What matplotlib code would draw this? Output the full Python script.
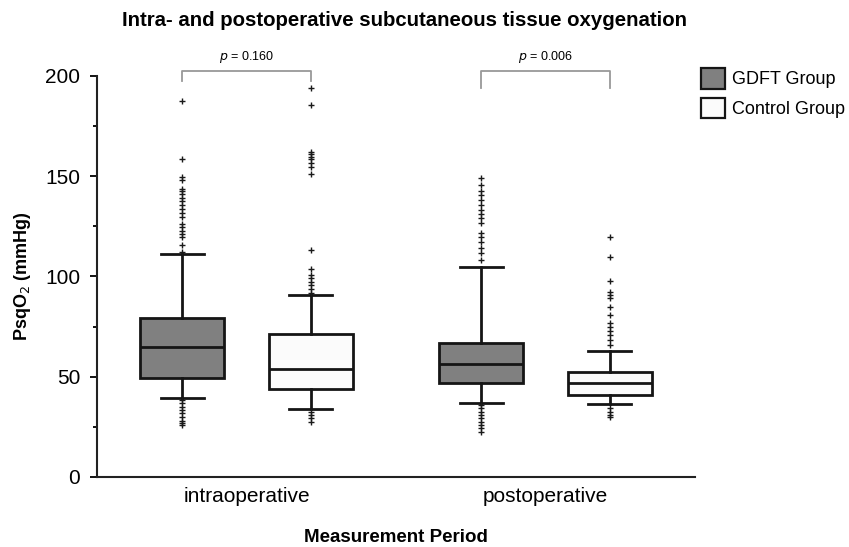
import matplotlib
matplotlib.use("Agg")
import matplotlib.pyplot as plt
from matplotlib.patches import Patch
from matplotlib.ticker import MultipleLocator

plt.rcParams['font.family'] = ['Liberation Sans', 'DejaVu Sans']

periods = ['intraoperative', 'postoperative']
groups = ['GDFT Group', 'Control Group']
colors = ['#808080', '#fbfbfb']

# box stats: [intra GDFT, intra Control, post GDFT, post Control]
whislo = [39.4, 33.9, 36.8, 36.2]
q1 = [49.4, 43.7, 46.7, 41.0]
med = [64.7, 53.9, 56.2, 46.7]
q3 = [79.5, 71.3, 67.0, 52.2]
whishi = [111.2, 90.6, 104.9, 62.8]

fliers_intra_gdft = [187.5, 158.6, 149.8, 148.1, 143.8, 142.8, 141.0, 139.2, 137.5,
                     135.7, 133.7, 131.5, 129.5, 126.3, 124.8, 122.7, 121.2, 119.6,
                     115.6, 112.4, 38.4, 36.8, 35.1, 33.4, 31.8, 30.1, 28.1, 26.8, 25.9]
fliers_intra_ctrl = [193.9, 185.5, 162.3, 161.1, 159.8, 158.6, 156.4, 154.5, 151.0,
                     113.2, 103.9, 100.7, 99.1, 97.4, 95.6, 93.6, 91.9,
                     32.6, 30.9, 29.3, 27.6]
fliers_post_gdft = [149.0, 145.6, 142.8, 140.6, 138.2, 135.7, 133.2, 131.2, 129.0,
                    126.9, 121.5, 119.9, 117.4, 114.1, 111.6, 108.2,
                    35.9, 34.3, 32.6, 30.9, 29.3, 27.6, 25.9, 24.3, 22.6]
fliers_post_ctrl = [119.9, 109.9, 97.9, 92.4, 90.8, 89.1, 84.6, 80.8, 76.7, 75.0,
                    73.0, 70.8, 68.3, 65.8, 34.3, 32.6, 30.9, 29.8]
fliers = [fliers_intra_gdft, fliers_intra_ctrl, fliers_post_gdft, fliers_post_ctrl]

p_values = ['0.160', '0.006']

fig = plt.figure(figsize=(8.49, 5.47), dpi=100)
ax = fig.add_axes([0.1143, 0.128, 0.7043, 0.7331])

off = 0.215
positions = []
for i in range(len(periods)):
    positions += [i + 1 - off, i + 1 + off]

stats = []
for k in range(4):
    stats.append(dict(whislo=whislo[k], q1=q1[k], med=med[k], q3=q3[k],
                      whishi=whishi[k], fliers=fliers[k]))

lc = '#151515'
bp = ax.bxp(stats, positions=positions, widths=0.28, capwidths=0.145,
            patch_artist=True, showfliers=True,
            boxprops=dict(linewidth=2.0, edgecolor=lc),
            medianprops=dict(color=lc, linewidth=2.0),
            whiskerprops=dict(color=lc, linewidth=2.0),
            capprops=dict(color=lc, linewidth=2.0),
            flierprops=dict(marker='+', markersize=4, markeredgecolor='#1a1a1a',
                            markeredgewidth=1.0, linestyle='none'))
for k, box in enumerate(bp['boxes']):
    box.set_facecolor(colors[k % 2])

ax.set_xlim(0.5, 2.5)
ax.set_ylim(0, 200)
ax.set_xticks([1, 2])
ax.set_xticklabels(periods, fontsize=15)
ax.tick_params(axis='x', length=0, pad=7)
ax.yaxis.set_major_locator(MultipleLocator(50))
ax.yaxis.set_minor_locator(MultipleLocator(25))
ax.tick_params(axis='y', which='major', labelsize=15, length=5, width=1.3,
               direction='out', pad=7)
ax.tick_params(axis='y', which='minor', length=3, width=1.3, direction='out')
for s in ['top', 'right']:
    ax.spines[s].set_visible(False)
for s in ['left', 'bottom']:
    ax.spines[s].set_linewidth(1.5)
    ax.spines[s].set_color('#222222')

ax.set_ylabel('PsqO$_2$ (mmHg)', fontsize=13, fontweight='bold', labelpad=9)
ax.set_xlabel('Measurement Period', fontsize=13.5, fontweight='bold', labelpad=17)

# significance brackets
bracket_drop = [5, 8.5]
for i in range(len(periods)):
    x1, x2 = positions[2 * i], positions[2 * i + 1]
    top = 202.5
    ax.plot([x1, x1, x2, x2], [top - bracket_drop[i], top, top, top - bracket_drop[i]],
            color='#999999', lw=1.3, clip_on=False)
    ax.text((x1 + x2) / 2, top + 3, '$p$ = ' + p_values[i], ha='center', va='bottom',
            fontsize=9)

fig.text(0.476, 0.962, 'Intra- and postoperative subcutaneous tissue oxygenation',
         ha='center', va='center', fontsize=14.7, fontweight='bold')

handles = [Patch(facecolor=colors[k], edgecolor=lc, linewidth=1.6) for k in range(2)]
fig.legend(handles, groups, loc='upper left', bbox_to_anchor=(0.807, 0.906),
           frameon=False, fontsize=13, handlelength=1.3, handleheight=1.4,
           handletextpad=0.4, labelspacing=0.5)

fig.savefig('out.png', dpi=100)
